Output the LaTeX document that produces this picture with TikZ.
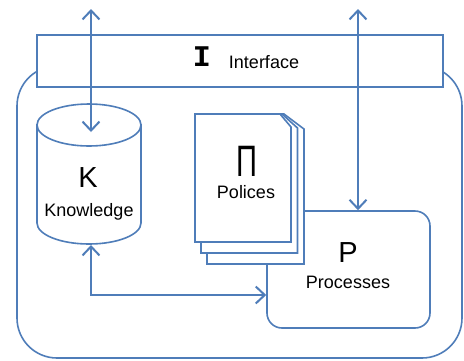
\documentclass[tikz,border=0pt]{standalone}
\usepackage{fontspec}
\setmainfont{Liberation Sans}
\newfontfamily\monofont{Liberation Mono}
\usetikzlibrary{arrows.meta}
\definecolor{frame}{RGB}{79,125,185}
\tikzset{
  boxline/.style={draw=frame, line width=1.6pt, fill=white},
  link/.style={draw=frame, line width=2pt,
    {Straight Barb[length=9pt,width=17pt]}-{Straight Barb[length=9pt,width=17pt]}},
  label/.style={font=\fontsize{18}{20}\selectfont, inner sep=0pt},
  letter/.style={font=\fontsize{29}{30}\selectfont, inner sep=0pt},
}
\begin{document}
\begin{tikzpicture}[x=1pt, y=-1pt]
\useasboundingbox (0,0) rectangle (464,360);

% outer system frame
\draw[boxline, rounded corners=40pt] (17,66) rectangle (462,358);

% interface bar
\draw[boxline] (37,35) rectangle (443,87);
\node[font=\monofont\bfseries\fontsize{30}{30}\selectfont, inner sep=0pt] (isym) at (202,57) {I};
\node[label] (ilab) at (264,62) {Interface};

% knowledge store (cylinder)
\path[boxline] (37,125) -- (37,223)
  arc[start angle=180, end angle=360, x radius=52pt, y radius=21pt]
  -- (141,125) -- cycle;
\draw[boxline] (89,125) ellipse [x radius=52pt, y radius=21pt];
\node[letter] (ksym) at (88,178) {K};
\node[label] (klab) at (89,212) {Knowledge};

% processes
\node[boxline, rounded corners=15pt, minimum width=163pt, minimum height=117pt,
  inner sep=0pt] (proc) at (348.5,269.5) {};
\node[letter] (psym) at (348,253) {P};
\node[label] (plab) at (348,282) {Processes};

% stack of policy pages, back to front
\foreach \k in {2,1,0}{
  \pgfmathsetmacro{\L}{195+6*\k}
  \pgfmathsetmacro{\R}{291+6.5*\k}
  \pgfmathsetmacro{\B}{242+11*\k}
  \pgfmathsetmacro{\C}{280+2*\k}
  \pgfmathsetmacro{\D}{127+\k}
  \draw[boxline] (\L,\B) -- (\L,114) -- (\C,114) -- (\R,\D) -- (\R,\B) -- cycle;
}
\node[inner sep=0pt] (pisym) at (247,161)
  {\fontsize{44}{44}\selectfont\scalebox{0.66}[1]{Π}};
\node[label] (pilab) at (246,192) {Polices};

% connectors
\coordinate (ktop) at (91,132);
\coordinate (kbot) at (91,245);
\coordinate (ileft) at (91,9);
\coordinate (iright) at (358,9);
\coordinate (bend) at (91,295);
\draw[link] (ileft) -- (ktop);
\draw[link] (iright) -- (iright |- proc.north);
\draw[link] (kbot) -- (bend) -- (bend -| proc.west);
\end{tikzpicture}
\end{document}
